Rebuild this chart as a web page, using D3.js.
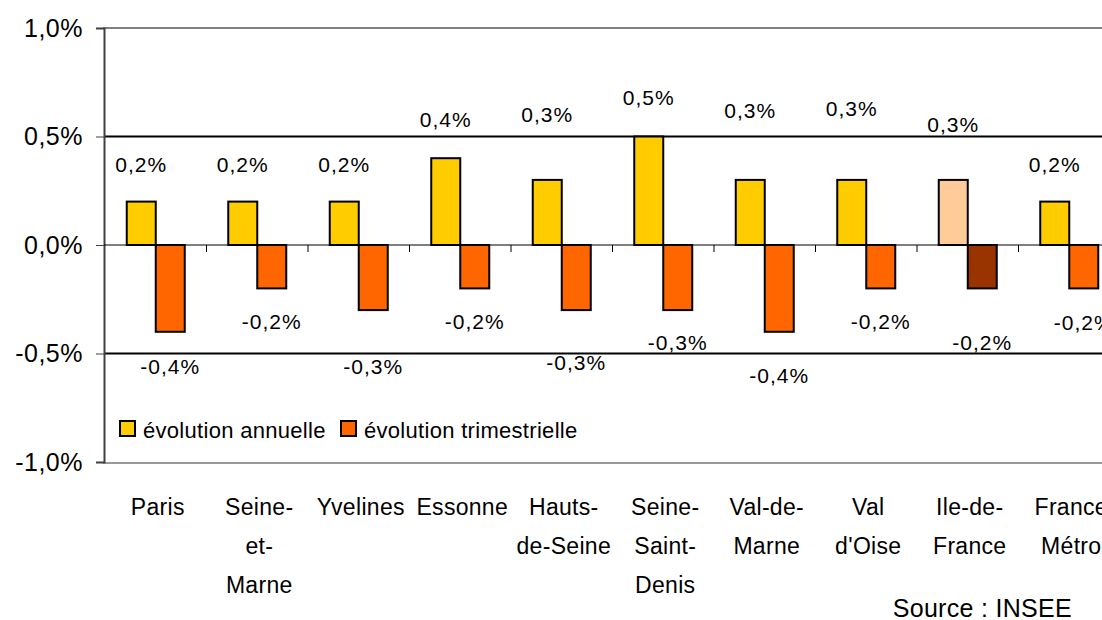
<!DOCTYPE html>
<html>
<head>
<meta charset="utf-8">
<script src="https://cdn.jsdelivr.net/npm/d3@7"></script>
<style>
body { margin: 0; background: #fff; }
text { font-family: "Liberation Sans", Arial, sans-serif; fill: #000; }
</style>
</head>
<body>
<div id="chart"></div>
<script>
// categories (multi-line labels)
const categories = ["Paris", "Seine-et-Marne", "Yvelines", "Essonne", "Hauts-de-Seine",
	"Seine-Saint-Denis", "Val-de-Marne", "Val d'Oise", "Ile-de-France", "France Métro"];
const catLines = [["Paris"], ["Seine-", "et-", "Marne"], ["Yvelines"], ["Essonne"], ["Hauts-", "de-Seine"],
	["Seine-", "Saint-", "Denis"], ["Val-de-", "Marne"], ["Val", "d'Oise"], ["Ile-de-", "France"], ["France", "Métro"]];
const annual = [0.2, 0.2, 0.2, 0.4, 0.3, 0.5, 0.3, 0.3, 0.3, 0.2];
const quarterly = [-0.4, -0.2, -0.3, -0.2, -0.3, -0.3, -0.4, -0.2, -0.2, -0.2];
const yTicks = [1.0, 0.5, 0.0, -0.5, -1.0];
const seriesNames = ["évolution annuelle", "évolution trimestrielle"];

// label placement (pixel y of label baseline, as in the original layout)
const annualLabelY = [172, 172, 172, 127, 122, 105, 118, 116, 132, 172];
const quarterlyLabelY = [374, 329, 374, 329, 370, 350, 383, 329, 350, 330];

const width = 1102, height = 620;
const svg = d3.select("#chart").append("svg")
	.attr("width", width)
	.attr("height", height);

const x = d3.scaleBand().domain(categories).range([105, 1120]).paddingInner(0).paddingOuter(0);
const y = d3.scaleLinear().domain([-1, 1]).range([462, 28]);
const barW = 29;

const fmt = v => d3.format(".1f")(v).replace(".", ",").replace("−", "-") + "%";

// frame lines
svg.append("line").attr("x1", 103).attr("x2", width).attr("y1", y(1)).attr("y2", y(1))
	.attr("stroke", "#808080").attr("stroke-width", 2);
svg.append("line").attr("x1", 103).attr("x2", width).attr("y1", y(-1) + 1).attr("y2", y(-1) + 1)
	.attr("stroke", "#9a9a9a").attr("stroke-width", 2);
[0.5, -0.5].forEach(v => {
	svg.append("line").attr("x1", 104).attr("x2", width).attr("y1", y(v)).attr("y2", y(v))
		.attr("stroke", "#000").attr("stroke-width", 2);
});

// y axis
const yAxis = svg.append("g").attr("transform", "translate(104,0)")
	.call(d3.axisLeft(y).tickValues(yTicks).tickSize(8).tickPadding(13).tickFormat(d => fmt(d)));
yAxis.select(".domain").attr("stroke", "#404040").attr("stroke-width", 2);
yAxis.selectAll(".tick line").attr("stroke", "#404040");
yAxis.selectAll(".tick text").attr("font-size", 25).attr("font-family", "Liberation Sans, Arial, sans-serif")
	.attr("fill", "#000").attr("letter-spacing", "0.5px");

// zero line with ticks at category boundaries
svg.append("line").attr("x1", 104).attr("x2", width).attr("y1", y(0)).attr("y2", y(0))
	.attr("stroke", "#000").attr("stroke-width", 1);
svg.selectAll(".ztick").data(categories.slice(1)).enter().append("line")
	.attr("x1", d => x(d)).attr("x2", d => x(d))
	.attr("y1", y(0)).attr("y2", y(0) + 7)
	.attr("stroke", "#000").attr("stroke-width", 1);

const annualColor = (d, i) => categories[i] === "Ile-de-France" ? "#FFCC99" : "#FFCC00";
const quarterColor = (d, i) => categories[i] === "Ile-de-France" ? "#993300" : "#FF6600";

// bars
svg.selectAll(".bar-a").data(annual).enter().append("rect")
	.attr("x", (d, i) => x(categories[i]) + x.bandwidth() / 2 - barW)
	.attr("y", d => y(Math.max(0, d)))
	.attr("width", barW)
	.attr("height", d => Math.abs(y(d) - y(0)))
	.attr("fill", annualColor)
	.attr("stroke", "#000").attr("stroke-width", 2);
svg.selectAll(".bar-q").data(quarterly).enter().append("rect")
	.attr("x", (d, i) => x(categories[i]) + x.bandwidth() / 2)
	.attr("y", d => y(Math.max(0, d)))
	.attr("width", barW)
	.attr("height", d => Math.abs(y(d) - y(0)))
	.attr("fill", quarterColor)
	.attr("stroke", "#000").attr("stroke-width", 2);

// data labels
svg.selectAll(".lab-a").data(annual).enter().append("text")
	.attr("x", (d, i) => x(categories[i]) + x.bandwidth() / 2 - barW / 2)
	.attr("y", (d, i) => annualLabelY[i])
	.attr("text-anchor", "middle").attr("font-size", 21).attr("letter-spacing", "1px")
	.text(d => fmt(d));
svg.selectAll(".lab-q").data(quarterly).enter().append("text")
	.attr("x", (d, i) => x(categories[i]) + x.bandwidth() / 2 + barW / 2)
	.attr("y", (d, i) => quarterlyLabelY[i])
	.attr("text-anchor", "middle").attr("font-size", 21).attr("letter-spacing", "1px")
	.text(d => fmt(d));

// category labels
const catG = svg.selectAll(".cat").data(categories).enter().append("text")
	.attr("text-anchor", "middle").attr("font-size", 23).attr("letter-spacing", "0.3px");
catG.each(function (d, i) {
	d3.select(this).selectAll("tspan").data(catLines[i]).enter().append("tspan")
		.attr("x", x(d) + x.bandwidth() / 2 + 2)
		.attr("y", (t, j) => 515 + j * 39)
		.text(t => t);
});

// legend
const legend = svg.append("g").attr("transform", "translate(120,421)");
const legColors = ["#FFCC00", "#FF6600"];
const legX = [0, 221];
seriesNames.forEach((s, i) => {
	legend.append("rect").attr("x", legX[i]).attr("y", 0).attr("width", 15).attr("height", 15)
		.attr("fill", legColors[i]).attr("stroke", "#000").attr("stroke-width", 2);
	legend.append("text").attr("x", legX[i] + 23).attr("y", 17)
		.attr("font-size", 22).attr("letter-spacing", "0.3px").text(s);
});

// source
svg.append("text").attr("x", 1072).attr("y", 617).attr("text-anchor", "end")
	.attr("font-size", 25).attr("letter-spacing", "0.3px").text("Source : INSEE");
</script>
</body>
</html>
